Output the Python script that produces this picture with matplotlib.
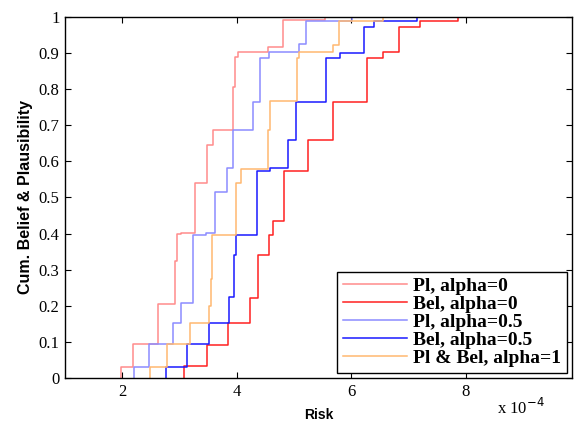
import numpy as np
import matplotlib.pyplot as plt

# risk values (x 1e-4) where each cumulative curve steps, and the level after the step
pl0_x = [1.98, 2.19, 2.62, 2.92, 2.96, 3.02, 3.28, 3.49, 3.59, 3.94, 3.97, 4.02, 4.54, 4.81, 5.54]
pl0_y = [0.031, 0.093, 0.204, 0.324, 0.398, 0.403, 0.541, 0.645, 0.687, 0.807, 0.890, 0.902, 0.918, 0.992, 1.0]

bel0_x = [3.08, 3.49, 3.85, 4.24, 4.38, 4.56, 4.63, 4.83, 5.24, 5.69, 6.27, 6.56, 6.84, 7.20, 7.87]
bel0_y = [0.033, 0.091, 0.151, 0.222, 0.341, 0.396, 0.435, 0.574, 0.659, 0.765, 0.887, 0.902, 0.973, 0.990, 1.0]

pl05_x = [2.21, 2.47, 2.89, 3.03, 3.23, 3.47, 3.62, 3.84, 3.94, 4.28, 4.41, 4.56, 5.09, 5.22, 6.01]
pl05_y = [0.031, 0.093, 0.153, 0.207, 0.396, 0.403, 0.516, 0.581, 0.687, 0.765, 0.886, 0.902, 0.924, 0.989, 1.0]

bel05_x = [2.76, 3.14, 3.51, 3.87, 3.96, 3.99, 4.35, 4.36, 4.58, 4.90, 5.03, 5.56, 5.81, 6.23, 6.40, 7.16]
bel05_y = [0.031, 0.093, 0.153, 0.225, 0.341, 0.396, 0.436, 0.574, 0.583, 0.659, 0.764, 0.887, 0.901, 0.973, 0.990, 1.0]

pb1_x = [2.49, 2.79, 3.19, 3.52, 3.55, 3.57, 3.99, 4.07, 4.54, 4.58, 5.05, 5.09, 5.69, 5.79, 6.56]
pb1_y = [0.031, 0.093, 0.153, 0.200, 0.273, 0.396, 0.539, 0.579, 0.687, 0.768, 0.886, 0.904, 0.922, 0.990, 1.0]

labels = ['Pl, alpha=0', 'Bel, alpha=0', 'Pl, alpha=0.5', 'Bel, alpha=0.5', 'Pl & Bel, alpha=1']
colors = ['#ff8c8c', '#ff2020', '#8c8cff', '#1a1aff', '#ffb870']

fig = plt.figure(figsize=(5.74, 4.23), dpi=100)
ax = fig.add_axes([0.1132, 0.1064, 0.8833, 0.8534])

curves = [(pl0_x, pl0_y), (bel0_x, bel0_y), (pl05_x, pl05_y), (bel05_x, bel05_y), (pb1_x, pb1_y)]
for (cx, cy), lab, col in zip(curves, labels, colors):
    ax.step(np.r_[cx[0], cx], np.r_[0, cy], where='post', color=col, lw=1.1, label=lab)

ax.set_xlim(1, 9.86)
ax.set_ylim(0, 1)
ax.set_xticks([2, 4, 6, 8])
ax.set_yticks(np.arange(0, 1.01, 0.1))
ax.set_yticklabels(['0', '0.1', '0.2', '0.3', '0.4', '0.5', '0.6', '0.7', '0.8', '0.9', '1'])
ax.tick_params(direction='in', top=True, right=True, length=4, width=0.8,
               labelsize=12, pad=4)
for t in ax.get_xticklabels() + ax.get_yticklabels():
    t.set_family('Liberation Serif')
for s in ax.spines.values():
    s.set_linewidth(1)

ax.set_xlabel('Risk', fontsize=10, fontweight='bold', family='Liberation Sans', labelpad=6)
ax.set_ylabel('Cum. Belief & Plausibility', fontsize=11.5, fontweight='bold',
              family='Liberation Sans', labelpad=4)
fig.text(0.866, 0.022, r'x 10$^{-4}$', fontsize=12, family='Liberation Serif')

leg = ax.legend(loc='lower right', fancybox=False, framealpha=1, edgecolor='black',
                borderaxespad=0.25, borderpad=0.3, handlelength=3.3, handletextpad=0.3,
                labelspacing=0.02,
                prop={'family': 'Liberation Serif', 'weight': 'bold', 'size': 14})
leg.get_frame().set_linewidth(1)

fig.savefig('out.png', dpi=100)
